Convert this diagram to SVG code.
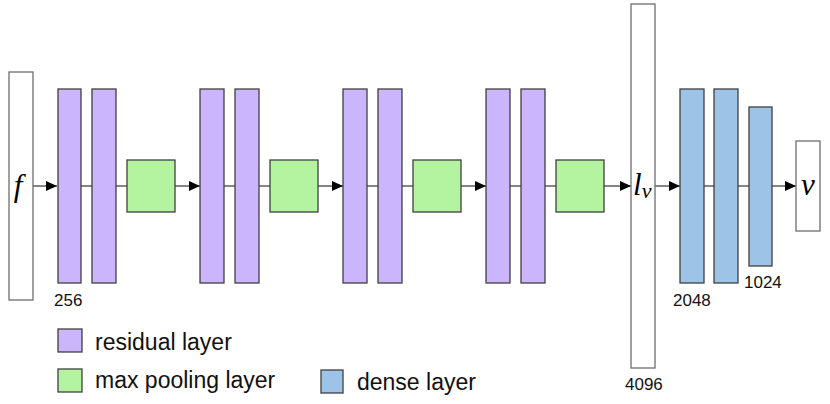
<svg xmlns="http://www.w3.org/2000/svg" width="830" height="404" viewBox="0 0 830 404">
<defs>
<style>
.io{fill:#fff;stroke:#6e6e6e;stroke-width:1.3}
.res{fill:#cbb6fd;stroke:#404040;stroke-width:1.3}
.pool{fill:#b4f4a1;stroke:#404040;stroke-width:1.3}
.dense{fill:#9dc3e6;stroke:#404040;stroke-width:1.3}
.c{stroke:#222;stroke-width:1.1;fill:none}
.a{marker-end:url(#ah)}
.num{font-family:"Liberation Sans",Arial,sans-serif;font-size:17px;fill:#111}
.leg{font-family:"Liberation Sans",Arial,sans-serif;font-size:23px;fill:#111}
.m{font-family:"Liberation Serif","Times New Roman",serif;font-style:italic;fill:#000}
</style>
<marker id="ah" markerWidth="11" markerHeight="10" refX="11" refY="5" orient="auto" markerUnits="userSpaceOnUse">
<path d="M0,0 L11,5 L0,10 Z" fill="#000"/>
</marker>
</defs>
<rect width="830" height="404" fill="#fff"/>
<g id="connectors">
<line class="c a" x1="33" y1="186" x2="57" y2="186"/>
<line class="c" x1="81" y1="186" x2="92" y2="186"/>
<line class="c" x1="116" y1="186" x2="127" y2="186"/>
<line class="c a" x1="175" y1="186" x2="200" y2="186"/>
<line class="c" x1="224" y1="186" x2="235" y2="186"/>
<line class="c" x1="259" y1="186" x2="270" y2="186"/>
<line class="c a" x1="318" y1="186" x2="343" y2="186"/>
<line class="c" x1="367" y1="186" x2="378" y2="186"/>
<line class="c" x1="402" y1="186" x2="413" y2="186"/>
<line class="c a" x1="461" y1="186" x2="486" y2="186"/>
<line class="c" x1="510" y1="186" x2="521" y2="186"/>
<line class="c" x1="545" y1="186" x2="556" y2="186"/>
<line class="c a" x1="604" y1="186" x2="631" y2="186"/>
<line class="c a" x1="655" y1="186" x2="680" y2="186"/>
<line class="c" x1="704" y1="186" x2="714" y2="186"/>
<line class="c" x1="738" y1="186" x2="749" y2="186"/>
<line class="c a" x1="772" y1="186" x2="796" y2="186"/>
</g>
<g id="input-f"><rect class="io" x="9" y="72" width="24" height="228"/><text class="m" x="18" y="196" font-size="31" text-anchor="middle">f</text></g>
<g id="res1"><rect class="res" x="58" y="89" width="23" height="194"/><text class="num" x="54" y="306">256</text></g>
<g id="res2"><rect class="res" x="92" y="89" width="24" height="194"/></g>
<g id="pool1"><rect class="pool" x="127" y="160" width="48" height="52"/></g>
<g id="res3"><rect class="res" x="200" y="89" width="24" height="194"/></g>
<g id="res4"><rect class="res" x="235" y="89" width="24" height="194"/></g>
<g id="pool2"><rect class="pool" x="270" y="160" width="48" height="52"/></g>
<g id="res5"><rect class="res" x="343" y="89" width="24" height="194"/></g>
<g id="res6"><rect class="res" x="378" y="89" width="24" height="194"/></g>
<g id="pool3"><rect class="pool" x="413" y="160" width="48" height="52"/></g>
<g id="res7"><rect class="res" x="486" y="89" width="24" height="194"/></g>
<g id="res8"><rect class="res" x="521" y="89" width="24" height="194"/></g>
<g id="pool4"><rect class="pool" x="556" y="160" width="48" height="52"/></g>
<g id="lv"><rect class="io" x="631" y="4" width="24" height="364"/><text class="m" x="633" y="195" font-size="31">l<tspan font-size="22" dy="3">v</tspan></text><text class="num" x="625" y="390">4096</text></g>
<g id="dense1"><rect class="dense" x="680" y="89" width="24" height="194"/><text class="num" x="673" y="306">2048</text></g>
<g id="dense2"><rect class="dense" x="714" y="89" width="24" height="194"/></g>
<g id="dense3"><rect class="dense" x="749" y="107" width="23" height="159"/><text class="num" x="744" y="288">1024</text></g>
<g id="output-v"><rect class="io" x="796" y="141" width="24" height="90"/><text class="m" x="808" y="195" font-size="31" text-anchor="middle">v</text></g>
<g id="legend">
<rect class="res" x="58" y="329" width="24" height="23"/><text class="leg" x="95" y="350">residual layer</text>
<rect class="pool" x="58" y="369" width="24" height="23"/><text class="leg" x="95" y="388">max pooling layer</text>
<rect class="dense" x="321" y="370" width="22" height="23"/><text class="leg" x="357" y="390">dense layer</text>
</g>
</svg>
